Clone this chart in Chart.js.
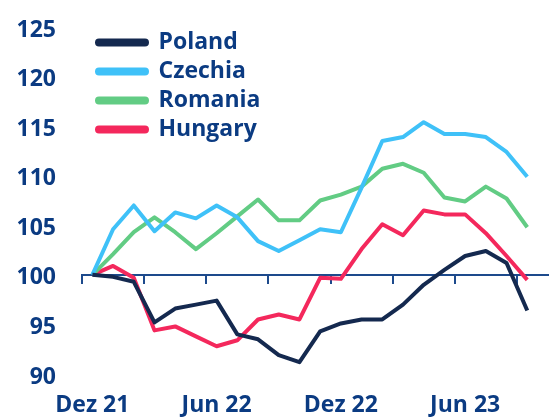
<!DOCTYPE html>
<html>
<head>
<meta charset="utf-8">
<script src="https://cdn.jsdelivr.net/npm/chart.js@4"></script>
<style>
  html, body { margin: 0; padding: 0; background: #fff; }
  #wrap { position: relative; width: 549px; height: 417px; }
</style>
</head>
<body>
<div id="wrap"><canvas id="myChart"></canvas></div>
<script>
// Index, Dez 21 = 100
const months = ['Dez 21', 'Jan 22', 'Feb 22', 'Mär 22', 'Apr 22', 'Mai 22', 'Jun 22', 'Jul 22', 'Aug 22', 'Sep 22', 'Okt 22', 'Nov 22',
    'Dez 22', 'Jan 23', 'Feb 23', 'Mär 23', 'Apr 23', 'Mai 23', 'Jun 23', 'Jul 23', 'Aug 23', 'Sep 23'];
const tickLabels = ['Dez 21', 'Jun 22', 'Dez 22', 'Jun 23'];
const yTicks = [90, 95, 100, 105, 110, 115, 120, 125];

const poland  = [100, 99.8, 99.3, 95.2, 96.6, 97.0, 97.4, 94.0, 93.5, 91.9, 91.2, 94.3, 95.1, 95.5, 95.5, 97.0, 99.0, 100.5, 101.9, 102.4, 101.2, 96.4];
const czechia = [100, 104.6, 107.0, 104.4, 106.3, 105.7, 107.0, 105.8, 103.4, 102.4, 103.5, 104.6, 104.3, 108.8, 113.5, 113.9, 115.4, 114.2, 114.2, 113.9, 112.4, 109.9];
const romania = [100, 102.1, 104.3, 105.8, 104.3, 102.6, 104.2, 105.9, 107.6, 105.5, 105.5, 107.5, 108.1, 108.9, 110.7, 111.2, 110.3, 107.8, 107.4, 108.9, 107.7, 104.8];
const hungary = [100, 100.9, 99.7, 94.4, 94.8, 93.8, 92.8, 93.4, 95.5, 96.0, 95.5, 99.7, 99.6, 102.6, 105.1, 104.0, 106.5, 106.1, 106.1, 104.2, 101.9, 99.5];

const textColor = '#0b3b82';
const axisColor = '#1d4a8c';
const font = { family: "'Open Sans', sans-serif", weight: '700', size: 23 };

function series(label, values, color) {
    return {
        label: label,
        data: values.map((v, i) => ({ x: i, y: v })),
        borderColor: color,
        backgroundColor: color,
        borderWidth: 4,
        pointRadius: 0,
        tension: 0,
        borderJoinStyle: 'round',
        xAxisID: 'x',
    };
}

const data = {
    datasets: [
        series('Poland', poland, '#14294f'),
        series('Czechia', czechia, '#3fc1f8'),
        series('Romania', romania, '#62cc84'),
        series('Hungary', hungary, '#f4285c'),
    ],
};

const xMin = -0.5, xMax = 22.05;

// legend sits inside the plot, a bit in from the top-left corner
const legendInside = {
    id: 'legendInside',
    afterLayout(chart) {
        const l = chart.legend;
        l.left = chart.chartArea.left + 9;
        l.top = chart.chartArea.top - 2;
    },
};

// no extra room for overhanging tick labels
const noOverhang = (scale) => {
    scale.paddingLeft = 0;
    scale.paddingRight = 0;
    scale.paddingTop = 0;
    scale.paddingBottom = 0;
};

const config = {
    type: 'line',
    data: data,
    plugins: [legendInside],
    options: {
        responsive: true,
        maintainAspectRatio: false,
        animation: false,
        layout: { autoPadding: false, padding: { top: 27, left: 16, right: 0, bottom: 0 } },
        plugins: {
            tooltip: { enabled: false },
            legend: {
                position: 'chartArea',
                align: 'start',
                labels: {
                    color: textColor,
                    font: font,
                    boxWidth: 50,
                    boxHeight: 4,
                    padding: 6,
                    useBorderRadius: true,
                    borderRadius: 2,
                },
            },
        },
        scales: {
            x: {
                type: 'linear',
                min: xMin,
                max: xMax,
                grid: { display: false, drawTicks: false },
                border: { display: false },
                afterBuildTicks: (scale) => {
                    scale.ticks = tickLabels.map(l => ({ value: months.indexOf(l) }));
                },
                afterFit: (scale) => {
                    noOverhang(scale);
                    scale.height = 43;
                },
                ticks: {
                    color: textColor,
                    font: font,
                    padding: 18,
                    maxRotation: 0,
                    autoSkip: false,
                    callback: (v) => months[v],
                },
            },
            // baseline at 100 with a tick mark every quarter
            x2: {
                type: 'linear',
                position: { y: 100 },
                min: xMin,
                max: xMax,
                afterBuildTicks: (scale) => {
                    const t = [];
                    for (let i = 0; i < months.length; i += 3) t.push({ value: i - 0.5 });
                    scale.ticks = t;
                },
                afterFit: noOverhang,
                grid: {
                    drawOnChartArea: false,
                    drawTicks: true,
                    tickLength: 8,
                    color: axisColor,
                    lineWidth: 2,
                },
                border: { display: true, color: axisColor, width: 2 },
                ticks: { display: false },
            },
            y: {
                min: 90,
                max: 125,
                grid: { display: false, drawTicks: false },
                border: { display: false },
                afterBuildTicks: (scale) => {
                    scale.ticks = yTicks.map(v => ({ value: v }));
                },
                afterFit: (scale) => {
                    noOverhang(scale);
                    scale.width = 66;
                },
                ticks: {
                    color: textColor,
                    font: font,
                    padding: 26,
                    labelOffset: 3,
                },
            },
        },
    },
};

const myChart = new Chart(document.getElementById('myChart'), config);
</script>
</body>
</html>
